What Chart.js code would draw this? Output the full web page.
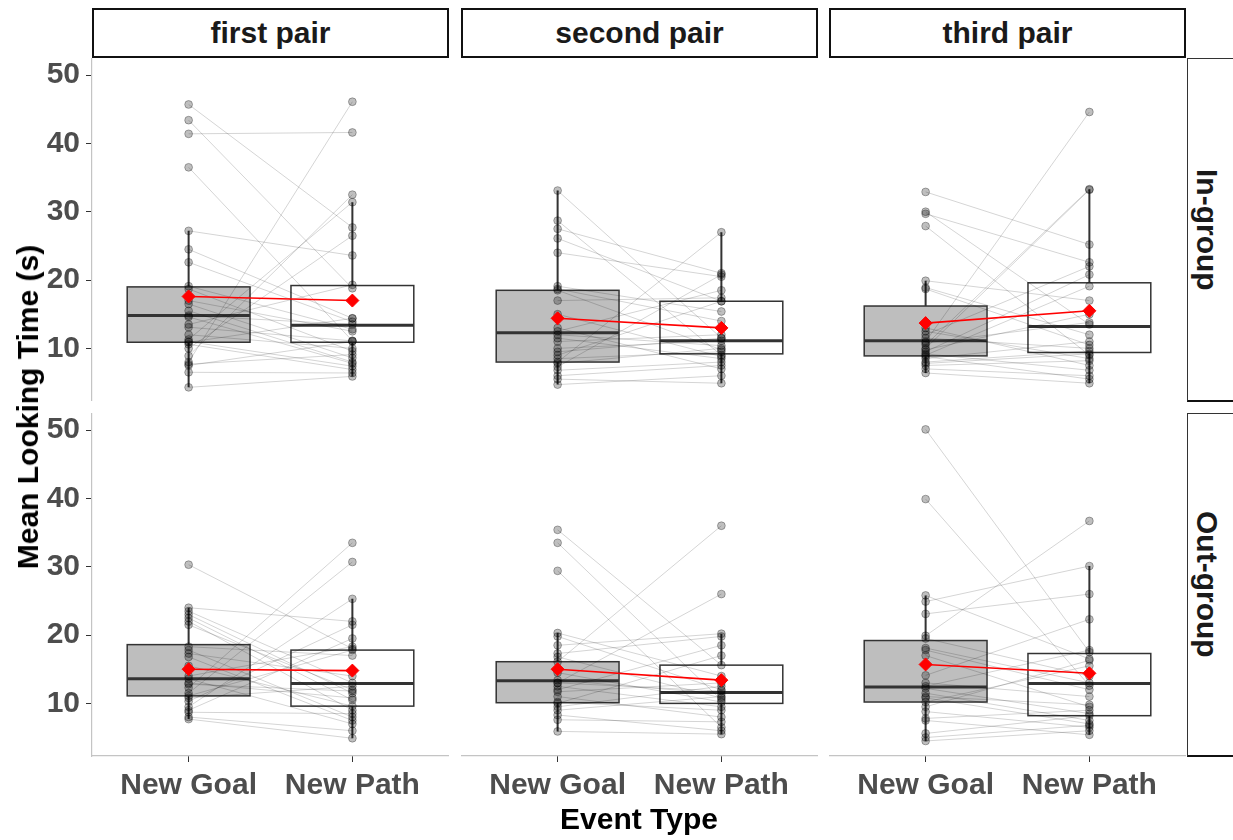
<!DOCTYPE html>
<html>
<head>
<meta charset="utf-8">
<script src="https://cdn.jsdelivr.net/npm/chart.js@4.4.1/dist/chart.umd.min.js"></script>
<style>
  html, body { margin: 0; padding: 0; background: #fff; }
  body { width: 1233px; height: 840px; position: relative; overflow: hidden;
         font-family: "Liberation Sans", Arial, sans-serif; }
  .strip { position: absolute; box-sizing: border-box; background: #fff;
           display: flex; align-items: center; justify-content: center;
           font-weight: bold; font-size: 30px; color: #1a1a1a; }
  .top-strip { border: 2px solid #111; }
  .side-strip { border-left: 1.5px solid #333; border-top: 1px solid #333; border-bottom: 2.5px solid #111; padding-right: 12px; }
  .side-strip span { writing-mode: vertical-rl; white-space: nowrap; line-height: 1; }
  .title { position: absolute; font-weight: bold; font-size: 30px; color: #000; white-space: nowrap; }
  canvas { position: absolute; }
</style>
</head>
<body>
<script>
// ---- categories and labels ----
const events = ['New Goal', 'New Path'];
const pairs = ['first pair', 'second pair', 'third pair'];
const groups = ['In-group', 'Out-group'];
const yTicks = [10, 20, 30, 40, 50];

// ---- per-infant mean looking times (s), paired by index: goal[i] <-> path[i] ----
const inFirstGoal  = [45.7, 43.4, 41.4, 36.5, 27.2, 24.5, 22.6, 19.1, 18.7, 17.0, 16.5, 14.8, 14.6, 13.5, 13.1, 11.3, 11.0, 10.9, 10.6, 10.0, 8.9, 8.0, 7.7, 7.5, 6.5, 4.3, 12.0, 15.5];
const inFirstPath  = [27.7, 18.8, 41.6, 11.1, 23.6, 14.4, 13.9, 12.8, 9.6, 12.5, 8.6, 13.5, 7.8, 19.3, 11.1, 31.4, 7.4, 14.4, 6.9, 26.5, 32.5, 46.1, 9.1, 11.0, 6.4, 5.9, 10.0, 8.0];
const inSecondGoal = [33.1, 28.7, 27.5, 26.1, 24.0, 19.1, 18.7, 17.0, 12.5, 12.0, 11.5, 11.0, 10.0, 9.0, 8.0, 7.8, 7.3, 6.8, 6.0, 5.5, 4.7, 8.5, 13.0, 9.5, 18.5, 15.0];
const inSecondPath = [11.5, 9.0, 21.0, 16.9, 20.5, 15.4, 14.0, 17.4, 18.5, 10.4, 8.5, 12.0, 11.1, 16.9, 27.0, 10.0, 20.8, 8.0, 7.5, 4.9, 6.0, 9.5, 7.0, 11.5, 9.8, 8.8];
const inThirdGoal  = [32.9, 30.0, 29.7, 27.9, 19.9, 18.9, 18.7, 11.0, 10.5, 10.0, 12.0, 9.5, 9.0, 8.5, 8.0, 7.5, 7.0, 6.4, 13.0, 11.5, 10.8, 9.8, 8.8, 7.8, 12.5, 9.2];
const inThirdPath  = [25.2, 13.5, 22.6, 9.0, 17.0, 12.0, 10.5, 44.6, 33.3, 33.2, 22.0, 20.8, 19.1, 11.0, 9.6, 8.2, 6.0, 4.9, 7.5, 10.0, 13.8, 15.0, 5.5, 9.2, 8.5, 6.8];
const outFirstGoal  = [30.3, 24.0, 23.5, 23.0, 22.5, 22.0, 21.5, 17.8, 17.3, 16.8, 14.0, 13.6, 13.0, 12.3, 11.5, 11.1, 10.3, 9.5, 8.7, 8.0, 7.7, 9.0, 10.8, 12.8, 15.5, 18.3];
const outFirstPath  = [18.0, 22.0, 13.0, 11.5, 10.5, 9.0, 12.0, 8.0, 14.0, 7.5, 18.3, 7.0, 10.8, 33.5, 30.7, 17.8, 21.5, 25.3, 8.5, 6.0, 4.9, 19.5, 12.5, 11.8, 9.6, 17.0];
const outSecondGoal = [35.4, 33.5, 29.4, 20.3, 19.8, 18.5, 17.3, 16.1, 13.0, 13.4, 13.0, 12.0, 11.7, 10.2, 10.0, 9.0, 8.3, 7.6, 5.9, 14.5, 12.5, 9.5, 16.8, 11.0];
const outSecondPath = [15.6, 10.5, 6.5, 14.0, 12.0, 20.2, 19.8, 36.0, 26.0, 11.4, 11.8, 18.5, 13.0, 9.0, 17.0, 11.0, 6.0, 7.3, 5.5, 10.2, 9.5, 12.5, 10.8, 8.0];
const outThirdGoal  = [50.1, 39.9, 25.8, 24.9, 23.1, 19.9, 19.5, 18.1, 17.8, 17.0, 14.1, 12.5, 12.2, 11.5, 10.8, 10.2, 8.8, 7.8, 7.5, 5.6, 5.0, 4.5, 13.0, 11.0, 9.5];
const outThirdPath  = [17.5, 12.6, 16.5, 30.1, 26.0, 36.7, 14.0, 13.0, 12.0, 9.5, 22.3, 17.8, 8.5, 7.5, 7.0, 15.5, 6.5, 9.0, 5.4, 8.2, 6.8, 6.0, 11.0, 9.8, 16.3];

// ---- box summaries: [lower whisker, Q1, median, Q3, upper whisker] ----
const inFirstGoalBox   = [4.3, 10.9, 14.8, 19.0, 27.2];
const inFirstPathBox   = [5.9, 10.9, 13.4, 19.2, 31.4];
const inSecondGoalBox  = [4.7, 8.0, 12.3, 18.5, 33.1];
const inSecondPathBox  = [4.9, 9.2, 11.1, 16.9, 27.0];
const inThirdGoalBox   = [6.4, 8.9, 11.1, 16.2, 19.9];
const inThirdPathBox   = [4.9, 9.4, 13.2, 19.6, 33.3];
const outFirstGoalBox  = [7.7, 11.1, 13.6, 18.6, 24.0];
const outFirstPathBox  = [4.9, 9.6, 12.9, 17.8, 25.3];
const outSecondGoalBox = [5.9, 10.1, 13.3, 16.1, 20.3];
const outSecondPathBox = [5.5, 10.0, 11.6, 15.6, 20.2];
const outThirdGoalBox  = [4.5, 10.2, 12.4, 19.2, 25.8];
const outThirdPathBox  = [5.4, 8.2, 12.9, 17.3, 30.1];

// ---- condition means [New Goal, New Path] ----
const inFirstMeans   = [17.6, 17.0];
const inSecondMeans  = [14.4, 13.0];
const inThirdMeans   = [13.7, 15.5];
const outFirstMeans  = [15.0, 14.8];
const outSecondMeans = [15.0, 13.4];
const outThirdMeans  = [15.7, 14.4];

// ---- facet grid layout ----
const COL_LEFT = [92, 461, 829];
const COL_W = 357;
const ROW_TOP = [58, 413];
const ROW_H = 343;
const Y_AXIS_W = 92;
const X_AXIS_H = 70;
const FONT = '"Liberation Sans", Arial, sans-serif';

const panels = [
  [
    [inFirstGoal, inFirstPath, inFirstGoalBox, inFirstPathBox, inFirstMeans],
    [inSecondGoal, inSecondPath, inSecondGoalBox, inSecondPathBox, inSecondMeans],
    [inThirdGoal, inThirdPath, inThirdGoalBox, inThirdPathBox, inThirdMeans]
  ],
  [
    [outFirstGoal, outFirstPath, outFirstGoalBox, outFirstPathBox, outFirstMeans],
    [outSecondGoal, outSecondPath, outSecondGoalBox, outSecondPathBox, outSecondMeans],
    [outThirdGoal, outThirdPath, outThirdGoalBox, outThirdPathBox, outThirdMeans]
  ]
];

// Box-and-whisker layer, drawn beneath the data lines and points
function boxPlugin(goalBox, pathBox) {
  return {
    id: 'boxes',
    beforeDatasetsDraw(chart) {
      const { ctx, scales: { x, y } } = chart;
      const unit = x.getPixelForValue(2) - x.getPixelForValue(1);
      const half = 0.375 * unit;
      [[1, goalBox, '#bebebe'], [2, pathBox, '#ffffff']].forEach(([pos, b, fill]) => {
        const cx = x.getPixelForValue(pos);
        const [lo, q1, med, q3, hi] = b.map(v => y.getPixelForValue(v));
        ctx.save();
        ctx.strokeStyle = '#333';
        ctx.lineWidth = 2;
        ctx.beginPath();
        ctx.moveTo(cx, hi); ctx.lineTo(cx, q3);
        ctx.moveTo(cx, q1); ctx.lineTo(cx, lo);
        ctx.stroke();
        ctx.fillStyle = fill;
        ctx.fillRect(cx - half, q3, 2 * half, q1 - q3);
        ctx.lineWidth = 1.5;
        ctx.strokeRect(cx - half, q3, 2 * half, q1 - q3);
        ctx.lineWidth = 3;
        ctx.beginPath();
        ctx.moveTo(cx - half, med); ctx.lineTo(cx + half, med);
        ctx.stroke();
        ctx.restore();
      });
    }
  };
}

function makePanel(r, c) {
  const [goal, path, goalBox, pathBox, means] = panels[r][c];
  const showY = c === 0;
  const showX = r === 1;
  const left = showY ? 0 : COL_LEFT[c];
  const w = COL_W + (showY ? COL_LEFT[0] : 0);
  const h = ROW_H + (showX ? X_AXIS_H : 0);
  const cv = document.createElement('canvas');
  cv.width = w; cv.height = h;
  cv.style.left = left + 'px';
  cv.style.top = ROW_TOP[r] + 'px';
  cv.style.width = w + 'px';
  cv.style.height = h + 'px';
  document.body.appendChild(cv);

  const pairLines = [];
  goal.forEach((g, i) => {
    pairLines.push({ x: 1, y: g }, { x: 2, y: path[i] }, { x: 2, y: null });
  });
  const pts = goal.map(v => ({ x: 1, y: v })).concat(path.map(v => ({ x: 2, y: v })));

  const tickFont = { family: FONT, size: 30, weight: 'bold' };
  const axisGrid = { display: true, drawOnChartArea: false, drawTicks: true, tickLength: 6, color: '#333', lineWidth: 1 };
  const axisBorder = { display: true, color: '#c4c4c4', width: 1.2 };

  new Chart(cv, {
    type: 'scatter',
    data: {
      datasets: [
        {
          type: 'line', label: 'mean', data: events.map((e, i) => ({ x: i + 1, y: means[i] })),
          borderColor: '#ff0000', borderWidth: 1.6, backgroundColor: '#ff0000',
          pointStyle: 'rectRot', pointRadius: 6.5, pointBorderWidth: 1, pointBorderColor: '#ff0000',
          order: 0, clip: false
        },
        {
          type: 'scatter', label: 'infants', data: pts,
          backgroundColor: 'rgba(0,0,0,0.25)', borderColor: 'rgba(0,0,0,0.3)', borderWidth: 1,
          pointRadius: 3.9, order: 1, clip: false
        },
        {
          type: 'line', label: 'pairs', data: pairLines, spanGaps: false,
          borderColor: 'rgba(0,0,0,0.17)', borderWidth: 1, pointRadius: 0,
          order: 2, clip: false
        }
      ]
    },
    options: {
      responsive: false,
      animation: false,
      devicePixelRatio: 1,
      events: [],
      layout: { padding: 0, autoPadding: false },
      plugins: { legend: { display: false }, tooltip: { enabled: false } },
      scales: {
        x: {
          type: 'linear', min: 0.41, max: 2.59, display: showX,
          afterBuildTicks: s => { s.ticks = [{ value: 1 }, { value: 2 }]; },
          afterFit: s => {
            if (s.options.display) s.height = X_AXIS_H;
            s.paddingLeft = 0; s.paddingRight = 0;
          },
          ticks: { callback: v => events[v - 1], font: tickFont, color: '#4d4d4d', padding: 6, maxRotation: 0, autoSkip: false },
          grid: axisGrid, border: axisBorder
        },
        y: {
          type: 'linear', min: 2.3, max: 52.5, display: showY,
          afterBuildTicks: s => { s.ticks = yTicks.map(v => ({ value: v })); },
          afterFit: s => {
            if (s.options.display) s.width = Y_AXIS_W;
            s.paddingTop = 0; s.paddingBottom = 0;
          },
          ticks: { font: tickFont, color: '#4d4d4d', padding: 6 },
          grid: axisGrid, border: axisBorder
        }
      }
    },
    plugins: [boxPlugin(goalBox, pathBox)]
  });
}

for (let r = 0; r < 2; r++) for (let c = 0; c < 3; c++) makePanel(r, c);

// ---- facet strips ----
pairs.forEach((p, c) => {
  const d = document.createElement('div');
  d.className = 'strip top-strip';
  d.style.left = COL_LEFT[c] + 'px';
  d.style.top = '8px';
  d.style.width = COL_W + 'px';
  d.style.height = '50px';
  d.textContent = p;
  document.body.appendChild(d);
});
groups.forEach((g, r) => {
  const d = document.createElement('div');
  d.className = 'strip side-strip';
  d.style.left = '1187px';
  d.style.top = ROW_TOP[r] + 'px';
  d.style.width = '50px';
  d.style.height = ROW_H + 1 + 'px';
  const s = document.createElement('span');
  s.textContent = g;
  d.appendChild(s);
  document.body.appendChild(d);
});

// ---- axis titles ----
const yt = document.createElement('div');
yt.className = 'title';
yt.textContent = 'Mean Looking Time (s)';
yt.style.left = '28px';
yt.style.top = '407px';
yt.style.transform = 'translate(-50%, -50%) rotate(-90deg)';
document.body.appendChild(yt);

const xt = document.createElement('div');
xt.className = 'title';
xt.textContent = 'Event Type';
xt.style.left = '639px';
xt.style.top = '819px';
xt.style.transform = 'translate(-50%, -50%)';
document.body.appendChild(xt);
</script>
</body>
</html>
